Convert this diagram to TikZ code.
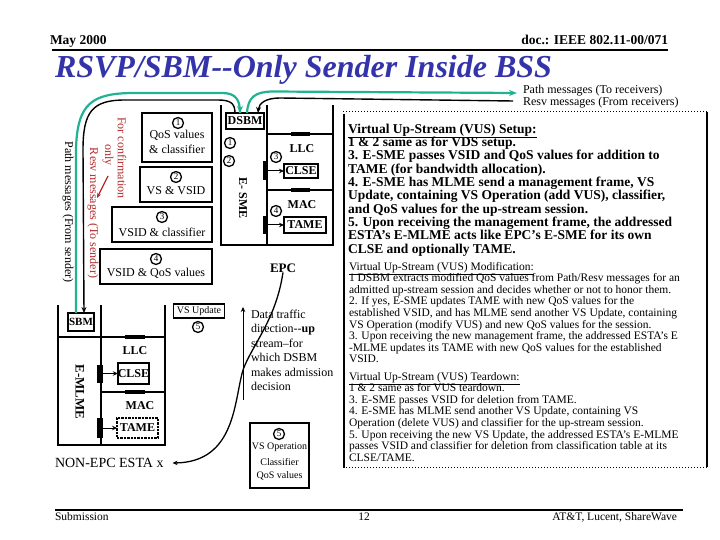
\documentclass[tikz,border=0pt]{standalone}
\usepackage{fontspec}
\setmainfont{Liberation Serif}
\usetikzlibrary{arrows.meta}
\definecolor{pathteal}{RGB}{32,178,145}
\definecolor{titleblue}{RGB}{51,51,170}
\definecolor{resvred}{RGB}{180,40,40}
\newcommand\myfs[1]{\fontsize{#1}{#1}\selectfont}
\begin{document}
\begin{tikzpicture}[x=1pt,y=-1pt,
  every node/.style={inner sep=0pt, outer sep=0pt},
  tbox/.style={draw, line width=1.8pt},
  num/.style={circle, draw, line width=1.3pt, minimum size=11pt, inner sep=0pt, font=\myfs{9}},
  barnode/.style={fill=black, draw=none},
  arr/.style={-{Stealth[length=5pt,width=4.5pt]}, line width=1pt},
  lbl/.style={font=\myfs{12}\bfseries},
  boxtxt/.style={font=\myfs{12}},
  tealline/.style={pathteal, line width=2.2pt},
  blackline/.style={black, line width=1.4pt},
]
\useasboundingbox (0,0) rectangle (720,540);

% header
\node[anchor=base west, font=\myfs{13.5}\bfseries] (hdl) at (50,45) {May 2000};
\node[anchor=base east, font=\myfs{13.5}\bfseries] (hdr) at (668,45) {doc.: IEEE 802.11-00/071};
\draw[line width=2pt] (52,50) -- (668,50);
\node[anchor=base west, font=\myfs{32}\bfseries\itshape, text=titleblue] (title) at (55,78) {RSVP/SBM-{}-Only Sender Inside BSS};

% footer
\draw[line width=2pt] (55,510) -- (683,510);
\node[anchor=base west, font=\myfs{11.5}] (fl) at (55,520) {Submission};
\node[anchor=base, font=\myfs{11.5}] (fc) at (364,520) {12};
\node[anchor=base east, font=\myfs{11.5}] (fr) at (677,520) {AT\&T, Lucent, ShareWave};

% legend texts
\node[anchor=base west, font=\myfs{12}] (lg1) at (523,94) {Path messages (To receivers)};
\node[anchor=base west, font=\myfs{12}] (lg2) at (523,106) {Resv messages (From receivers)};

% left boxes
\node[tbox, minimum width=70, minimum height=49] (bx1) at (177,137.5) {};
\node[num] (n1) at (178,123) {1};
\node[boxtxt, align=center, font=\fontsize{12}{15}\selectfont, anchor=north] (t1) at (177,130) {QoS values\\\& classifier};
\node[tbox, minimum width=72, minimum height=35] (bx2) at (176,184.5) {};
\node[num] (n2) at (176,177) {2};
\node[boxtxt] (t2) at (176,191) {VS \& VSID};
\node[tbox, minimum width=100, minimum height=35] (bx3) at (162,224.5) {};
\node[num] (n3) at (162,217) {3};
\node[boxtxt] (t3) at (162,232) {VSID \& classifier};
\node[tbox, minimum width=112, minimum height=35] (bx4) at (156,266.5) {};
\node[num] (n4) at (156,259) {4};
\node[boxtxt] (t4) at (156,273) {VSID \& QoS values};

% EPC station
\coordinate (ew1) at (221,105); \coordinate (ew2) at (221,245);
\coordinate (ew3) at (333,245); \coordinate (ew4) at (333,105);
\draw[line width=1.2pt] (ew1) -- (ew2) -- (ew3) -- (ew4);
\coordinate (em1) at (267,105); \coordinate (em2) at (267,245);
\draw[line width=1.2pt] (em1) -- (em2);
\coordinate (eh1) at (267,134); \coordinate (eh2) at (333,134);
\coordinate (eh3) at (267,190); \coordinate (eh4) at (333,190);
\draw[line width=1.2pt] (eh1) -- (eh2) (eh3) -- (eh4);
\node[barnode, minimum width=19, minimum height=4.5] (hb1) at (300.5,134) {};
\node[barnode, minimum width=19, minimum height=4.5] (hb2) at (300.5,190) {};
\node[tbox, minimum width=38, minimum height=16, font=\myfs{12}\bfseries] (dsbm) at (245,121) {DSBM};
\node[num] (e1) at (230,143) {1};
\node[num] (e2) at (229,161) {2};
\node[lbl, rotate=-90] (esme) at (243,198) {E- SME};
\node[lbl] (llc1) at (302,149) {LLC};
\node[num] (e3) at (276,157) {3};
\node[tbox, minimum width=34, minimum height=14, font=\myfs{12}\bfseries] (clse1) at (301,171) {CLSE};
\node[barnode, minimum width=5, minimum height=19] (vb1) at (265.5,171) {};
\draw[arr] (vb1) -- (clse1);
\node[lbl] (mac1) at (302,205) {MAC};
\node[num] (e4) at (276,211) {4};
\node[tbox, minimum width=42, minimum height=16, font=\myfs{12}\bfseries] (tame1) at (305,225) {TAME};
\node[barnode, minimum width=5, minimum height=18] (vb2) at (265.5,225) {};
\draw[arr] (vb2) -- (tame1);
\node[font=\myfs{13}\bfseries] (epc) at (283,268) {EPC};

% SBM station
\coordinate (sw1) at (58,305); \coordinate (sw2) at (58,445);
\coordinate (sw3) at (165,445); \coordinate (sw4) at (165,305);
\draw[line width=1.2pt] (sw1) -- (sw2) -- (sw3) -- (sw4);
\coordinate (sm1) at (101,305); \coordinate (sm2) at (101,445);
\draw[line width=1.2pt] (sm1) -- (sm2);
\coordinate (sh1) at (58,337); \coordinate (sh2) at (165,337);
\coordinate (sh3) at (101,392); \coordinate (sh4) at (165,392);
\draw[line width=1.2pt] (sh1) -- (sh2) (sh3) -- (sh4);
\node[barnode, minimum width=20, minimum height=4] (hb3) at (135,337) {};
\node[barnode, minimum width=20, minimum height=4] (hb4) at (135,392) {};
\node[tbox, minimum width=26, minimum height=18, font=\myfs{11}\bfseries] (sbm) at (81,322) {SBM};
\node[lbl] (llc2) at (135,351) {LLC};
\node[tbox, minimum width=31, minimum height=21, font=\myfs{12}\bfseries] (clse2) at (133.5,373.5) {CLSE};
\node[barnode, minimum width=6, minimum height=18] (vb3) at (100,373.5) {};
\draw[arr] (vb3) -- (clse2);
\node[lbl] (mac2) at (140,406) {MAC};
\node[draw, densely dotted, line width=2.4pt, minimum width=41, minimum height=20, font=\myfs{12}\bfseries] (tame2) at (137.5,428) {TAME};
\node[barnode, minimum width=6, minimum height=20] (vb4) at (100,428) {};
\draw[arr] (vb4) -- (tame2);
\node[font=\myfs{13}\bfseries, rotate=-90] (emlme) at (80,392) {E-MLME};
\node[anchor=west, font=\myfs{14}] (nonepc) at (55,463) {NON-EPC ESTA x};

% VS update
\node[tbox, minimum width=51, minimum height=14, font=\myfs{10}] (vsup) at (199,311) {VS Update};
\node[num, fill=white] (c5a) at (198,327) {5};

% data traffic arrow
\coordinate (da1) at (243,400); \coordinate (da2) at (243,307);
\draw[arr] (da1) -- (da2);
\node[anchor=north west, align=left, font=\fontsize{12}{14.5}\selectfont] (dtxt) at (251,310)
  {Data traffic\\direction-{}-\textbf{up}\\stream--for\\which DSBM\\makes admission\\decision};

% box 5
\node[tbox, minimum width=59, minimum height=65] (bx5) at (279.5,455.5) {};
\node[num] (c5b) at (279,434) {5};
\node[font=\myfs{10}] (t5a) at (279.5,447) {VS Operation};
\node[font=\myfs{10}] (t5b) at (279.5,462) {Classifier};
\node[font=\myfs{10}] (t5c) at (279.5,476) {QoS values};

% EPC -> NON-EPC curve
\draw[arr, line width=1.3pt] (epc.south) .. controls (276,320) and (252,345) .. (243,370)
  .. controls (234,400) and (236,462) .. ([xshift=9pt]nonepc.east);

% rotated texts
\node[rotate=-90, font=\myfs{12}] (pmfs) at (68,212) {Path messages (From sender)};
\node[rotate=-90, text=resvred, font=\myfs{12}] (fco1) at (122,158) {For confirmation};
\node[rotate=-90, text=resvred, font=\myfs{12}] (fco2) at (108,155) {only};
\node[rotate=-90, text=resvred, font=\myfs{12}, anchor=west] (rmts) at (93,148) {Resv messages (To sender)};
\coordinate (ra1) at (108,176); \coordinate (ra2) at (97,198);
\draw[resvred, -{Stealth[length=5pt,width=4pt]}, line width=1.3pt] (ra1) -- (ra2);

% message flows
\draw[tealline] ([xshift=8pt]sbm.north west) -- (76,150) .. controls (77,103) and (92,93) .. (135,93)
  -- (222,93) .. controls (236,93) and (240,100) .. ([xshift=-5pt]dsbm.north);
\draw[tealline, -{Stealth[length=7pt,width=6pt]}] ([xshift=-5pt]dsbm.north) ++(0,-6) -- ([xshift=-5pt]dsbm.north);
\draw[blackline, -{Stealth[length=6pt,width=5pt]}] ([xshift=-10pt]dsbm.north) .. controls (235,103) and (230,100) .. (218,100)
  -- (125,100) .. controls (92,100) and (83,112) .. (83,150) -- ([xshift=16pt]sbm.north west);
\coordinate (ptip) at (517,93);
\draw[tealline, -{Stealth[length=8pt,width=6pt]}] ([xshift=2pt]dsbm.north) .. controls (248,97) and (255,92) .. (272,91.5) -- (ptip);
\coordinate (rstart) at (513,101);
\draw[blackline, -{Stealth[length=6pt,width=5pt]}] (rstart) -- (280,98) .. controls (266,98) and (259,103) .. ([xshift=13pt]dsbm.north);

% right text box
\draw[line width=1pt, dotted] (343,112) -- (708,112);
\draw[line width=1pt, dotted] (343,467) -- (708,467);
\draw[line width=2pt] (344,114) -- (344,468);
\draw[line width=2pt] (707,112) -- (707,467);

\foreach \t [count=\i] in {
  {\underline{Virtual Up-Stream (VUS) Setup:}},
  {1 \& 2 same as for VDS setup.},
  {3. E-SME passes VSID and QoS values for addition to},
  {TAME (for bandwidth allocation).},
  {4. E-SME has MLME send a management frame, VS},
  {Update, containing VS Operation (add VUS), classifier,},
  {and QoS values for the up-stream session.},
  {5. Upon receiving the management frame, the addressed},
  {ESTA’s E-MLME acts like EPC’s E-SME for its own},
  {CLSE and optionally TAME.}}
  \node[anchor=base west, font=\myfs{13.5}\bfseries] (sa\i) at (348,119.7+13.33*\i) {\t};

\foreach \t [count=\i] in {
  {\underline{Virtual Up-Stream (VUS) Modification:}},
  {1 DSBM extracts modified QoS values from Path/Resv messages for an},
  {admitted up-stream session and decides whether or not to honor them.},
  {2. If yes, E-SME updates TAME with new QoS values for the},
  {established VSID, and has MLME send another VS Update, containing},
  {VS Operation (modify VUS) and new QoS values for the session.},
  {3. Upon receiving the new management frame, the addressed ESTA’s E},
  {-MLME updates its TAME with new QoS values for the established},
  {VSID.}}
  \node[anchor=base west, font=\myfs{11.5}] (sb\i) at (349,258.4+11.6*\i) {\t};

\foreach \t [count=\i] in {
  {\underline{Virtual Up-Stream (VUS) Teardown:}},
  {1 \& 2 same as for VUS teardown.},
  {3. E-SME passes VSID for deletion from TAME.},
  {4. E-SME has MLME send another VS Update, containing VS},
  {Operation (delete VUS) and classifier for the up-stream session.},
  {5. Upon receiving the new VS Update, the addressed ESTA’s E-MLME},
  {passes VSID and classifier for deletion from classification table at its},
  {CLSE/TAME.}}
  \node[anchor=base west, font=\myfs{11.5}] (sc\i) at (349,368.4+11.6*\i) {\t};
\end{tikzpicture}
\end{document}
